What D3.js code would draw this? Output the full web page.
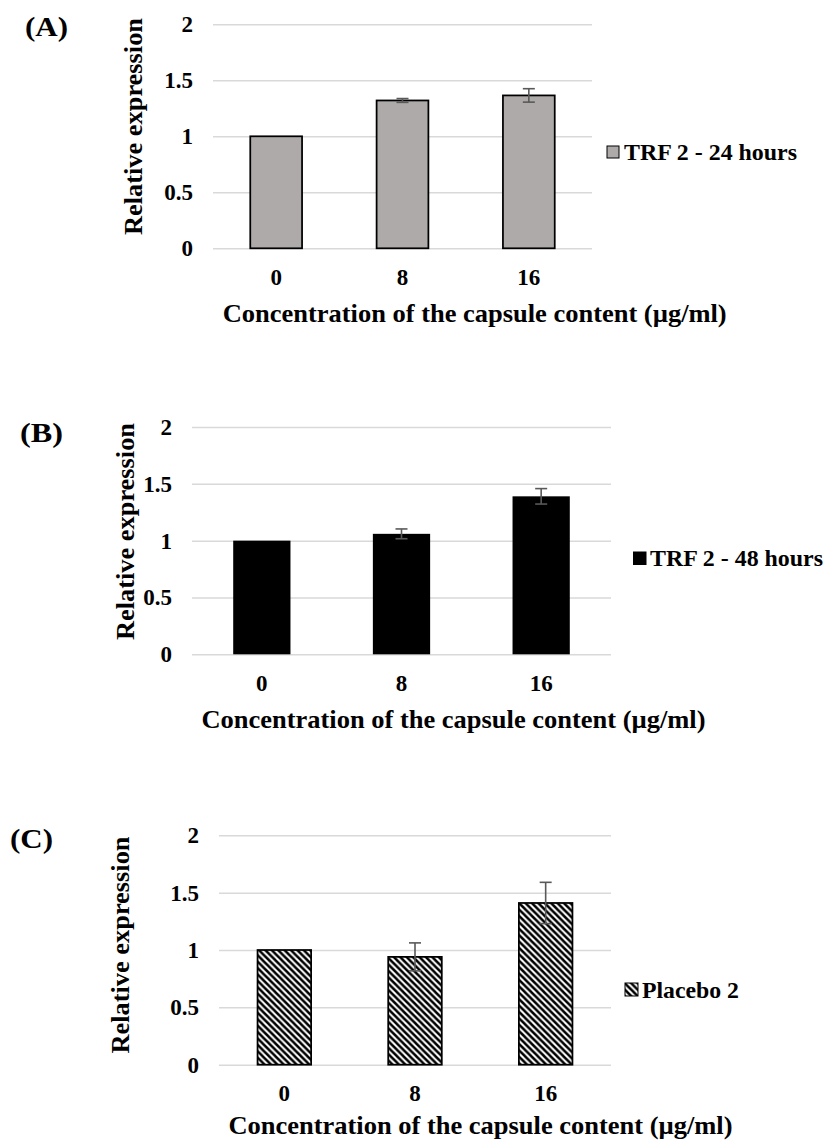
<!DOCTYPE html>
<html><head><meta charset="utf-8">
<script src="https://cdn.jsdelivr.net/npm/d3@7"></script>
<style>
body{margin:0;background:#fff}
svg text{font-family:"Times New Roman","Liberation Serif",serif !important;font-weight:700;fill:#000}
</style>
</head><body><svg id="c" width="826" height="1146"></svg>
<script>
// ---- data ----
const categories = ["0", "8", "16"];
const yTickValues = [0, 0.5, 1, 1.5, 2];
const seriesNames = ["TRF 2 - 24 hours", "TRF 2 - 48 hours", "Placebo 2"];
const panelLabels = ["(A)", "(B)", "(C)"];
const trf24Values = [1.0, 1.32, 1.365];
const trf24Errors = [0, 0.017, 0.06];
const trf48Values = [1.0, 1.06, 1.39];
const trf48Errors = [0, 0.043, 0.068];
const placeboValues = [1.0, 0.94, 1.41];
const placeboErrors = [0, 0.122, 0.18];
const xTitle = "Concentration of the capsule content (µg/ml)";
const yTitle = "Relative expression";

// ---- layout ----
const layouts = [
  {x:[213,592], y:[248.3,24.3], yTitleX:133, yTitleY:126.5, xTickY:277, xTitleX:474.7, xTitleY:313,
   sq:[607,146,12], legX:624, labelX:25, labelY:27, fill:"#aeaaaa", stroke:"#000"},
  {x:[192,611], y:[654.3,427], yTitleX:125, yTitleY:531.5, xTickY:683, xTitleX:453.5, xTitleY:719,
   sq:[633,551.5,13.5], legX:650, labelX:20, labelY:433, fill:"#000", stroke:"none"},
  {x:[219,611], y:[1064.7,835.3], yTitleX:120, yTitleY:945, xTickY:1093, xTitleX:480.5, xTitleY:1125,
   sq:[625,983,13], legX:642, labelX:10, labelY:839, fill:"url(#stripes)", stroke:"#000"}
];
const panels = [
  {name:seriesNames[0], values:trf24Values, errors:trf24Errors, label:panelLabels[0]},
  {name:seriesNames[1], values:trf48Values, errors:trf48Errors, label:panelLabels[1]},
  {name:seriesNames[2], values:placeboValues, errors:placeboErrors, label:panelLabels[2]}
];

const svg = d3.select("#c");
const defs = svg.append("defs");
const P = 6.4;
const pat = defs.append("pattern").attr("id","stripes").attr("patternUnits","userSpaceOnUse")
  .attr("width",P).attr("height",P);
pat.append("rect").attr("width",P).attr("height",P).attr("fill","#fff");
pat.append("path").attr("d",`M0,0L${P},${P}M${-P/2},${P/2}L${P/2},${1.5*P}M${P/2},${-P/2}L${1.5*P},${P/2}`)
  .attr("stroke","#000").attr("stroke-width",2.5);

panels.forEach((p, i) => {
  const L = layouts[i];
  const x = d3.scaleBand().domain(categories).range(L.x).paddingInner(0.59).paddingOuter(0.295);
  const y = d3.scaleLinear().domain([0, 2]).range(L.y);
  const g = svg.append("g");

  // gridlines + y tick labels
  const yAxis = d3.axisLeft(y).tickValues(yTickValues).tickFormat(d3.format("~g"))
    .tickSizeInner(-(L.x[1]-L.x[0])).tickSizeOuter(0).tickPadding(20);
  const ya = g.append("g").attr("transform",`translate(${L.x[0]},0)`).call(yAxis)
    .attr("font-family",null).attr("font-size",null);
  ya.select(".domain").remove();
  ya.selectAll(".tick line").attr("stroke","#d9d9d9").attr("stroke-width",1.5);
  ya.selectAll(".tick text").attr("font-size",23).style("fill","#000");

  // x tick labels
  const xAxis = d3.axisBottom(x).tickSize(0).tickPadding(0);
  const xa = g.append("g").attr("transform",`translate(0,${L.xTickY})`).call(xAxis)
    .attr("font-family",null).attr("font-size",null);
  xa.select(".domain").remove();
  xa.selectAll(".tick text").attr("font-size",23).attr("dy","0.35em").attr("y",0);

  // bars
  g.selectAll("rect.bar").data(p.values).join("rect").attr("class","bar")
    .attr("x",(d,j)=>x(categories[j])).attr("width",x.bandwidth())
    .attr("y",d=>y(d)).attr("height",d=>y(0)-y(d))
    .attr("fill",L.fill).attr("stroke",L.stroke).attr("stroke-width",1.75);

  // error bars
  const eb = g.selectAll("g.err").data(p.values.map((v,j)=>({v, e:p.errors[j], c:categories[j]})).filter(d=>d.e>0))
    .join("g").attr("class","err").attr("stroke","#595959").attr("stroke-width",1.6);
  const cx = d => x(d.c)+x.bandwidth()/2;
  eb.append("line").attr("x1",cx).attr("x2",cx)
    .attr("y1",d=>y(d.v+d.e)).attr("y2",d=>y(d.v-d.e));
  eb.append("line").attr("x1",d=>cx(d)-6).attr("x2",d=>cx(d)+6)
    .attr("y1",d=>y(d.v+d.e)).attr("y2",d=>y(d.v+d.e));
  eb.append("line").attr("x1",d=>cx(d)-6).attr("x2",d=>cx(d)+6)
    .attr("y1",d=>y(d.v-d.e)).attr("y2",d=>y(d.v-d.e));

  // y title
  g.append("text").attr("transform",`translate(${L.yTitleX},${L.yTitleY}) rotate(-90)`)
    .attr("text-anchor","middle").attr("dy","0.35em").attr("font-size",25.5)
    .attr("textLength",217).attr("lengthAdjust","spacingAndGlyphs").text(yTitle);

  // x title
  g.append("text").attr("x",L.xTitleX).attr("y",L.xTitleY).attr("dy","0.35em")
    .attr("text-anchor","middle").attr("font-size",25.5)
    .attr("textLength",504).attr("lengthAdjust","spacingAndGlyphs").text(xTitle);

  // legend
  const [sx, sy, ss] = L.sq;
  g.append("rect").attr("x",sx).attr("y",sy).attr("width",ss).attr("height",ss)
    .attr("fill",L.fill).attr("stroke",L.stroke==="none"?"none":"#000").attr("stroke-width",1);
  g.append("text").attr("x",L.legX).attr("y",sy+ss/2).attr("dy","0.35em").attr("font-size",23)
    .attr("textLength", i===2 ? 97 : 173).attr("lengthAdjust","spacingAndGlyphs").text(p.name);

  // panel label
  g.append("text").attr("x",L.labelX).attr("y",L.labelY).attr("dy","0.35em").attr("font-size",27)
    .attr("textLength",43).attr("lengthAdjust","spacingAndGlyphs").text(p.label);
});
</script></body></html>
